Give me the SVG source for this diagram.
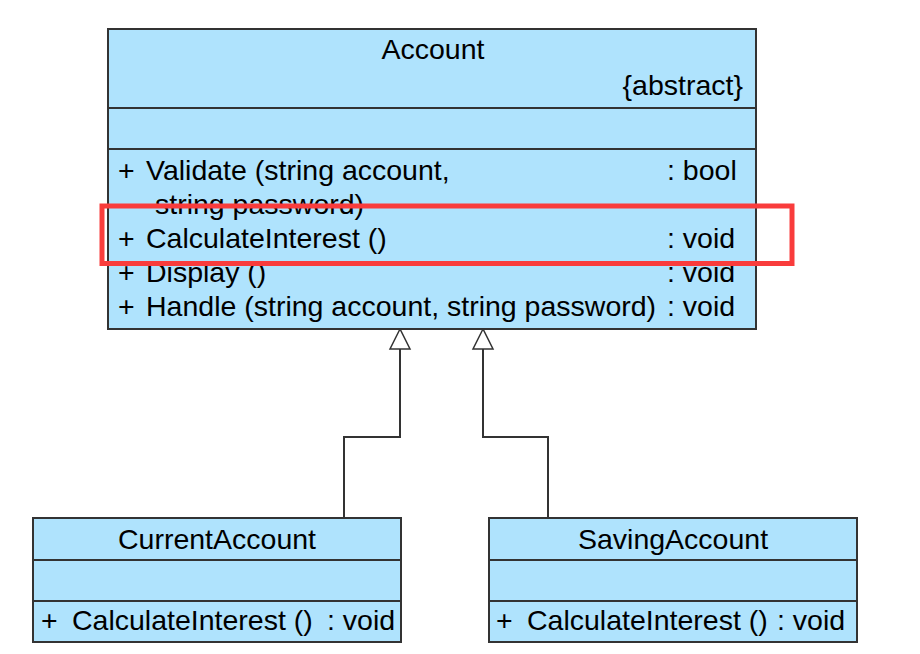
<svg xmlns="http://www.w3.org/2000/svg" width="920" height="654" viewBox="0 0 920 654">
<style>
.box{fill:#afe3fd;stroke:#333;stroke-width:2}
.sep{stroke:#333;stroke-width:2}
text{font-family:"Liberation Sans",Arial,sans-serif;font-size:28.5px;fill:#000}
.c{text-anchor:middle}
.r{text-anchor:end}
.conn{fill:none;stroke:#333;stroke-width:2}
.head{fill:#fff;stroke:#333;stroke-width:1.5}
</style>
<rect width="920" height="654" fill="#fff"/>
<g id="connectors">
<polyline class="conn" points="344,518 344,437 400,437 400,349"/>
<polygon class="head" points="400,329 390,349 410,349"/>
<polyline class="conn" points="548,518 548,437 483,437 483,349"/>
<polygon class="head" points="483,329 473,349 493,349"/>
</g>
<g id="Account">
<rect class="box" x="108" y="29" width="648" height="300"/>
<line class="sep" x1="108" y1="108" x2="756" y2="108"/>
<line class="sep" x1="108" y1="149" x2="756" y2="149"/>
<text class="c" x="433" y="59">Account</text>
<text class="r" x="743" y="95">{abstract}</text>
<text x="118" y="180">+</text>
<text x="146" y="180">Validate (string account,</text>
<text x="155" y="214">string password)</text>
<text x="667" y="180">: bool</text>
<text x="118" y="248">+</text>
<text x="146" y="248">CalculateInterest ()</text>
<text x="667" y="248">: void</text>
<text x="118" y="282">+</text>
<text x="146" y="282">Display ()</text>
<text x="667" y="282">: void</text>
<text x="118" y="316">+</text>
<text x="146" y="316">Handle (string account, string password)</text>
<text x="667" y="316">: void</text>
</g>
<g id="CurrentAccount">
<rect class="box" x="33" y="518" width="368" height="124"/>
<line class="sep" x1="33" y1="560" x2="401" y2="560"/>
<line class="sep" x1="33" y1="601" x2="401" y2="601"/>
<text class="c" x="217" y="549">CurrentAccount</text>
<text x="41" y="630">+</text>
<text x="72" y="630">CalculateInterest ()</text>
<text x="327" y="630">: void</text>
</g>
<g id="SavingAccount">
<rect class="box" x="489" y="518" width="368" height="124"/>
<line class="sep" x1="489" y1="560" x2="857" y2="560"/>
<line class="sep" x1="489" y1="601" x2="857" y2="601"/>
<text class="c" x="673" y="549">SavingAccount</text>
<text x="496" y="630">+</text>
<text x="527" y="630">CalculateInterest ()</text>
<text x="777" y="630">: void</text>
</g>
<g id="highlight">
<rect x="102" y="206" width="690" height="57.5" fill="none" stroke="#f93c3c" stroke-width="5"/>
</g>
</svg>
